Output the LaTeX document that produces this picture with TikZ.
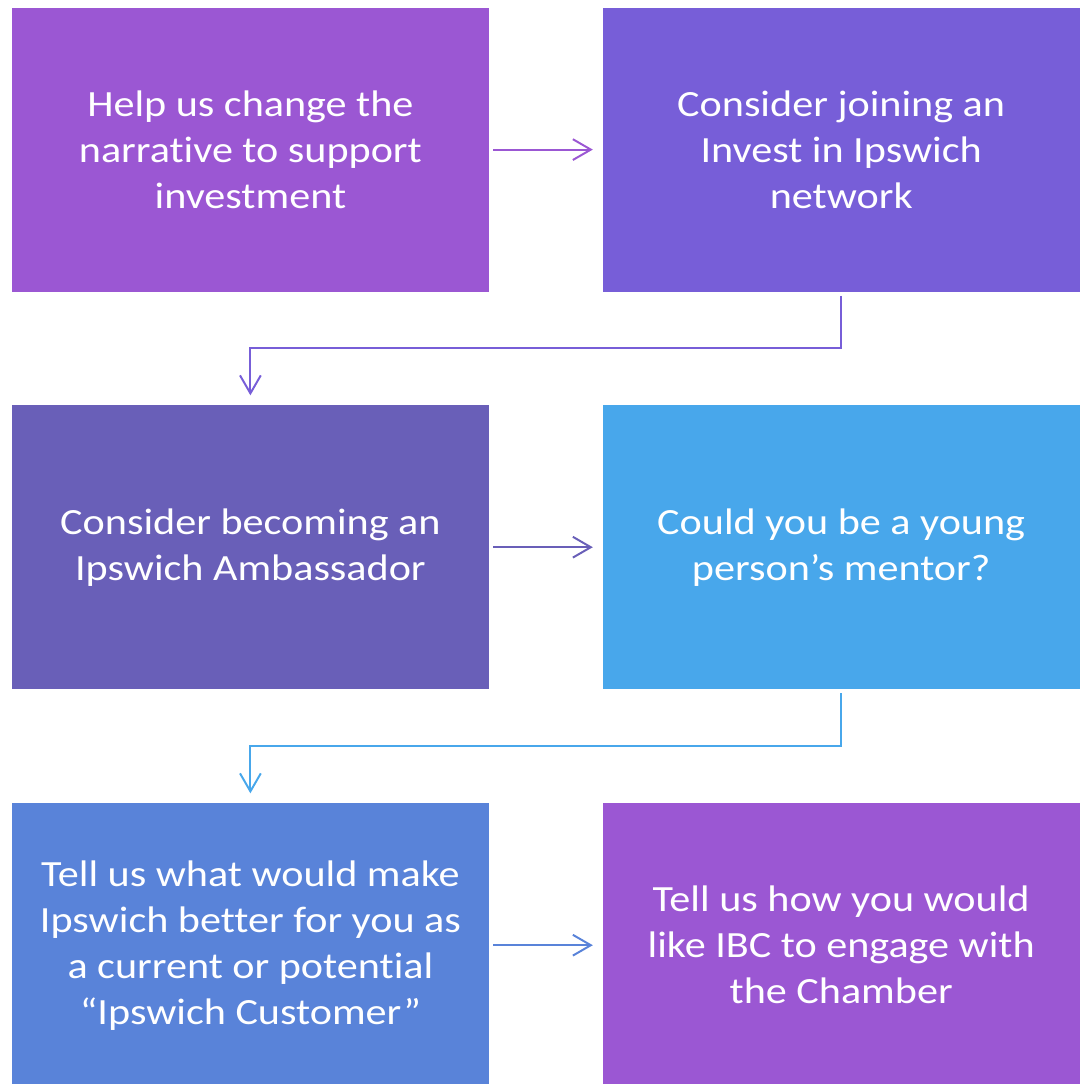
\documentclass[tikz,border=0pt]{standalone}
\usepackage{fontspec}
\setmainfont[Ligatures=NoCommon,FakeStretch=1.14]{Carlito}
\usetikzlibrary{arrows.meta,calc}

\definecolor{violetA}{HTML}{9B57D3}
\definecolor{violetB}{HTML}{775ED8}
\definecolor{indigoC}{HTML}{695FB8}
\definecolor{skyD}{HTML}{48A7EB}
\definecolor{blueE}{HTML}{5983D9}

\tikzset{
  stepbox/.style={fill=#1, text=white, minimum width=11.925cm, minimum height=7.1cm,
    align=center, inner sep=0pt, font=\fontsize{26.3}{32.7}\selectfont},
  link/.style={draw=#1, line width=1.4pt, -{Straight Barb[length=0.45cm,width=0.52cm,line width=1.4pt]},
    shorten <=0.1cm, shorten >=0.24cm}
}

\begin{document}
\begin{tikzpicture}
  \useasboundingbox (0,0) rectangle (27,-27.1);

  % six steps, two columns
  \node[stepbox=violetA] (b1) at (6.26,-3.74) {Help us change the\\narrative to support\\investment};
  \node[stepbox=violetB] (b2) at (21.03,-3.74) {Consider joining an\\Invest in Ipswich\\network};
  \node[stepbox=indigoC] (b3) at (6.26,-13.68) {Consider becoming an\\Ipswich Ambassador};
  \node[stepbox=skyD]    (b4) at (21.03,-13.68) {Could you be a young\\person’s mentor?};
  \node[stepbox=blueE]   (b5) at (6.26,-23.63) {Tell us what would make\\Ipswich better for you as\\a current or potential\\“Ipswich Customer”};
  \node[stepbox=violetA] (b6) at (21.03,-23.63) {Tell us how you would\\like IBC to engage with\\the Chamber};

  % arrows within a row
  \foreach \a/\b/\c in {b1/b2/violetA, b3/b4/indigoC, b5/b6/blueE}
    \draw[link=\c] (\a.east) -- (\b.west);

  % arrows down to the next row
  \draw[link=violetB] (b2.south) |- ($(b2.south)!0.5!(b3.north)$) -| (b3.north);
  \draw[link=skyD] (b4.south) |- ($(b4.south)!0.5!(b5.north)$) -| (b5.north);
\end{tikzpicture}
\end{document}
